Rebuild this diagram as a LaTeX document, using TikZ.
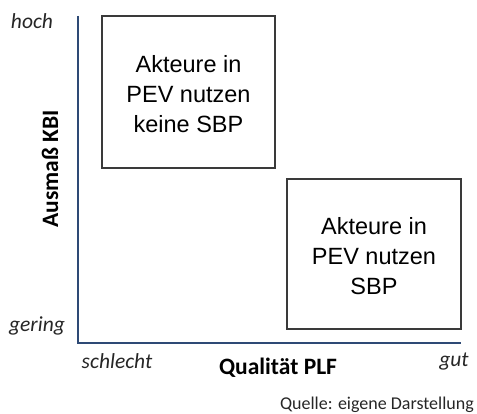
\documentclass[tikz,border=0pt]{standalone}
\usepackage{fontspec}
\setmainfont{Liberation Sans}
\newfontfamily\calib{Carlito}
\definecolor{axisblue}{HTML}{2E4A75}
\definecolor{boxgray}{HTML}{3A3A3A}
\definecolor{labgray}{HTML}{262626}
\begin{document}
\begin{tikzpicture}[x=1pt,y=-1pt,
  quad/.style={draw=boxgray,line width=1.4pt},
  quadtext/.style={align=center,font=\fontsize{23.5}{30}\selectfont,text=black},
  tick/.style={font=\calib\itshape\fontsize{21.5}{24}\selectfont,text=labgray,inner sep=0pt},
  axlabel/.style={font=\calib\bfseries\fontsize{23.5}{26}\selectfont,text=black,inner sep=0pt},
  axisline/.style={draw=axisblue,line width=1.3pt}]
\useasboundingbox (0,0) rectangle (477,414);
\coordinate (top) at (78,16);
\coordinate (origin) at (78,343);
\coordinate (right) at (461,343);
\draw[axisline] (top) -- (origin) -- (right);
\draw[quad] (102,16) rectangle (275,168);
\draw[quad] (287,179) rectangle (461,329);
\node[quadtext] (q1) at (188.5,94) {Akteure in\\PEV nutzen\\keine SBP};
\node[quadtext] (q2) at (374,256) {Akteure in\\PEV nutzen\\SBP};
\node[tick] (hoch) at (32,21) {hoch};
\node[tick] (gering) at (37,326) {gering};
\node[tick] (schlecht) at (117,361) {schlecht};
\node[tick] (gut) at (454,362) {gut};
\node[axlabel] (xl) at (278,368) {Qualität PLF};
\node[axlabel,rotate=90] (yl) at (50,169) {Ausmaß KBI};
\node[font=\calib\fontsize{18}{21}\selectfont,text=labgray,anchor=east,inner sep=0pt] (src) at (474,405) {Quelle: eigene Darstellung};
\end{tikzpicture}
\end{document}
